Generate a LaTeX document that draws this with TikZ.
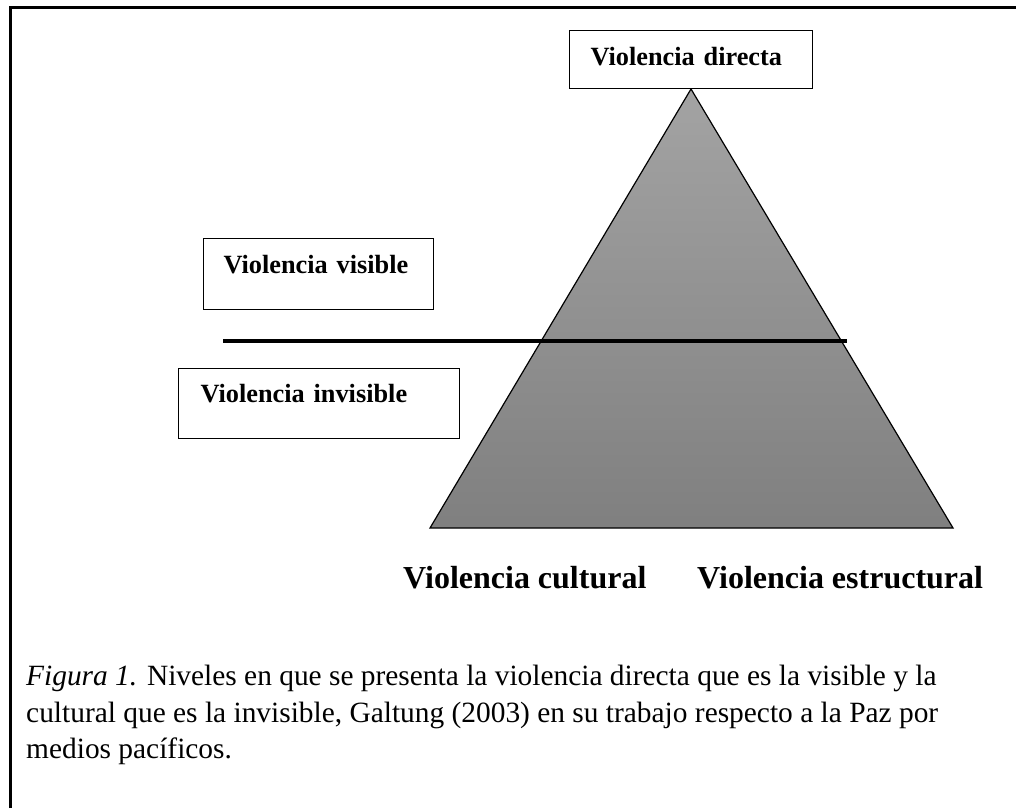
\documentclass[tikz,border=0pt]{standalone}
\usepackage{fontspec}
\setmainfont{Liberation Serif}
\usepackage{tikz}
\usepackage{xcolor}
\tikzset{
    label-box/.style = {draw=black, fill=white, line width=1.3pt, rectangle, anchor=north west, inner sep=0pt, align=left, font=\fontsize{26.3}{30}\selectfont\bfseries},
    big-label/.style = {anchor=base west, inner sep=0pt, font=\fontsize{32}{38}\selectfont\bfseries},
    caption-line/.style = {anchor=base west, inner sep=0pt, font=\fontsize{29.4}{37}\selectfont},
}

\begin{document}
\begin{tikzpicture}[x=1pt, y=-1pt]
\useasboundingbox (0,0) rectangle (1016,808);
% frame
\draw[line width=3pt] (10,808) -- (10,8) -- (1016,8);
% pyramid
\coordinate (apex) at (691,89);
\coordinate (base-left) at (430,528);
\coordinate (base-right) at (953,528);
\shadedraw[top color=black!36, bottom color=black!50, draw=black, line width=1.2pt, line join=miter]
    (apex) -- (base-left) -- (base-right) -- cycle;
% dividing line
\coordinate (split-left) at (223,341);
\coordinate (split-right) at (847,341);
\draw[line width=4pt] (split-left) -- (split-right);
% boxes
\node [label-box, inner xsep=21pt, text width=201pt, text height=35pt, text depth=23pt] (directa) at (569,30) {Violencia directa};
\node [label-box, inner xsep=20pt, text width=190pt, text height=35pt, text depth=36pt] (visible) at (203,238) {Violencia visible};
\node [label-box, inner xsep=22pt, text width=237pt, text height=34pt, text depth=36pt] (invisible) at (178,368) {Violencia invisible};
% base labels
\node [big-label] (cultural) at (403,588) {Violencia cultural};
\node [big-label] (estructural) at (697,588) {Violencia estructural};
% caption
\node [caption-line] (cap1) at (26,685) {\textit{Figura 1.} Niveles en que se presenta la violencia directa que es la visible y la};
\node [caption-line] (cap2) at (26,722) {cultural que es la invisible, Galtung (2003) en su trabajo respecto a la Paz por};
\node [caption-line] (cap3) at (26,758) {medios pacíficos.};
\end{tikzpicture}
\end{document}
